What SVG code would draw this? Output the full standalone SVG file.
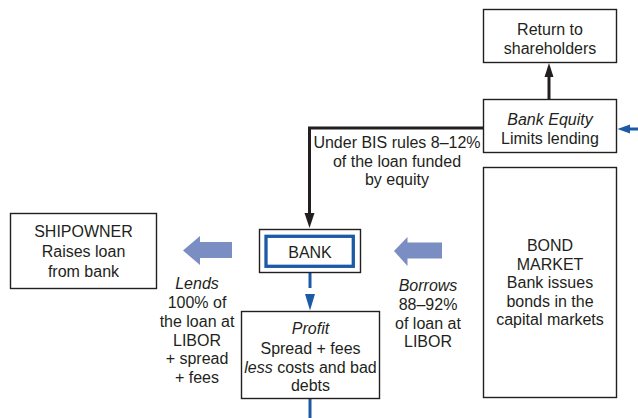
<svg xmlns="http://www.w3.org/2000/svg" width="638" height="418" viewBox="0 0 638 418">
<style>
.box{fill:#fff;stroke:#231f20;stroke-width:1.4}
text{font-family:"Liberation Sans",Arial,sans-serif;font-size:16px;fill:#231f20;text-anchor:middle}
.i{font-style:italic}
.blk{fill:none;stroke:#231f20;stroke-width:3}
.blu{fill:none;stroke:#1d5aa6;stroke-width:3}
.fat{fill:#7b8ec3}
</style>
<defs>
<marker id="ak" markerUnits="userSpaceOnUse" markerWidth="12" markerHeight="16" refX="5" refY="14" orient="auto-start-reverse" viewBox="0 0 10 16"><path d="M0,0 L10,0 L5,14 Z" fill="#231f20"/></marker>
</defs>
<g id="connectors">
<path class="blk" d="M549,99 V77"/>
<path d="M544.5,77 L553.5,77 L549,63 Z" fill="#231f20"/>
<path class="blk" d="M483,128 H309.5 V214"/>
<path d="M304.5,213 L314.5,213 L309.5,228 Z" fill="#231f20"/>
<path class="blu" d="M638,129 H628"/>
<path d="M630,124.5 L630,133.5 L617.5,129 Z" fill="#1d5aa6"/>
<path class="blu" d="M310,273 V288"/>
<path d="M305,294 L315,294 L310,310.5 Z" fill="#1d5aa6"/>
<path class="blu" d="M310,399 V418"/>
<path class="fat" d="M232,242 H200 V236 L183,250.5 L200,265 V258 H232 Z"/>
<path class="fat" d="M442,242.5 H407.5 V237 L394,251 L407.5,266 V258.5 H442 Z"/>
</g>
<g id="return">
<rect class="box" x="483.5" y="9.5" width="133" height="53"/>
<text x="550" y="35">Return to</text>
<text x="550" y="54">shareholders</text>
</g>
<g id="equity">
<rect class="box" x="483.5" y="99.5" width="133" height="53"/>
<text class="i" x="550" y="125">Bank Equity</text>
<text x="550" y="144">Limits lending</text>
</g>
<g id="bis">
<text x="397" y="148">Under BIS rules 8–12%</text>
<text x="397" y="166.5">of the loan funded</text>
<text x="397" y="185">by equity</text>
</g>
<g id="bond">
<rect class="box" x="483.5" y="167.5" width="133" height="230"/>
<text x="550" y="251">BOND</text>
<text x="550" y="269.5">MARKET</text>
<text x="550" y="288">Bank issues</text>
<text x="550" y="306.5">bonds in the</text>
<text x="550" y="325">capital markets</text>
</g>
<g id="bank">
<rect class="box" x="259.5" y="229.5" width="101" height="43"/>
<rect x="266" y="236.3" width="87.3" height="30" fill="none" stroke="#1d5aa6" stroke-width="3.3"/>
<text x="310" y="257.5">BANK</text>
</g>
<g id="shipowner">
<rect class="box" x="10.5" y="213.5" width="146" height="75"/>
<text x="83.5" y="237">SHIPOWNER</text>
<text x="83.5" y="257">Raises loan</text>
<text x="83.5" y="276.5">from bank</text>
</g>
<g id="lends">
<text class="i" x="197" y="289">Lends</text>
<text x="197" y="308">100% of</text>
<text x="197" y="327">the loan at</text>
<text x="197" y="345.5">LIBOR</text>
<text x="197" y="364">+ spread</text>
<text x="197" y="383">+ fees</text>
</g>
<g id="borrows">
<text class="i" x="428" y="291">Borrows</text>
<text x="428" y="310">88–92%</text>
<text x="428" y="328.5">of loan at</text>
<text x="428" y="347">LIBOR</text>
</g>
<g id="profit">
<rect class="box" x="241.5" y="311.5" width="138" height="87"/>
<text class="i" x="310.5" y="334">Profit</text>
<text x="310.5" y="354">Spread + fees</text>
<text x="310.5" y="373"><tspan class="i">less</tspan> costs and bad</text>
<text x="310.5" y="391">debts</text>
</g>
</svg>
